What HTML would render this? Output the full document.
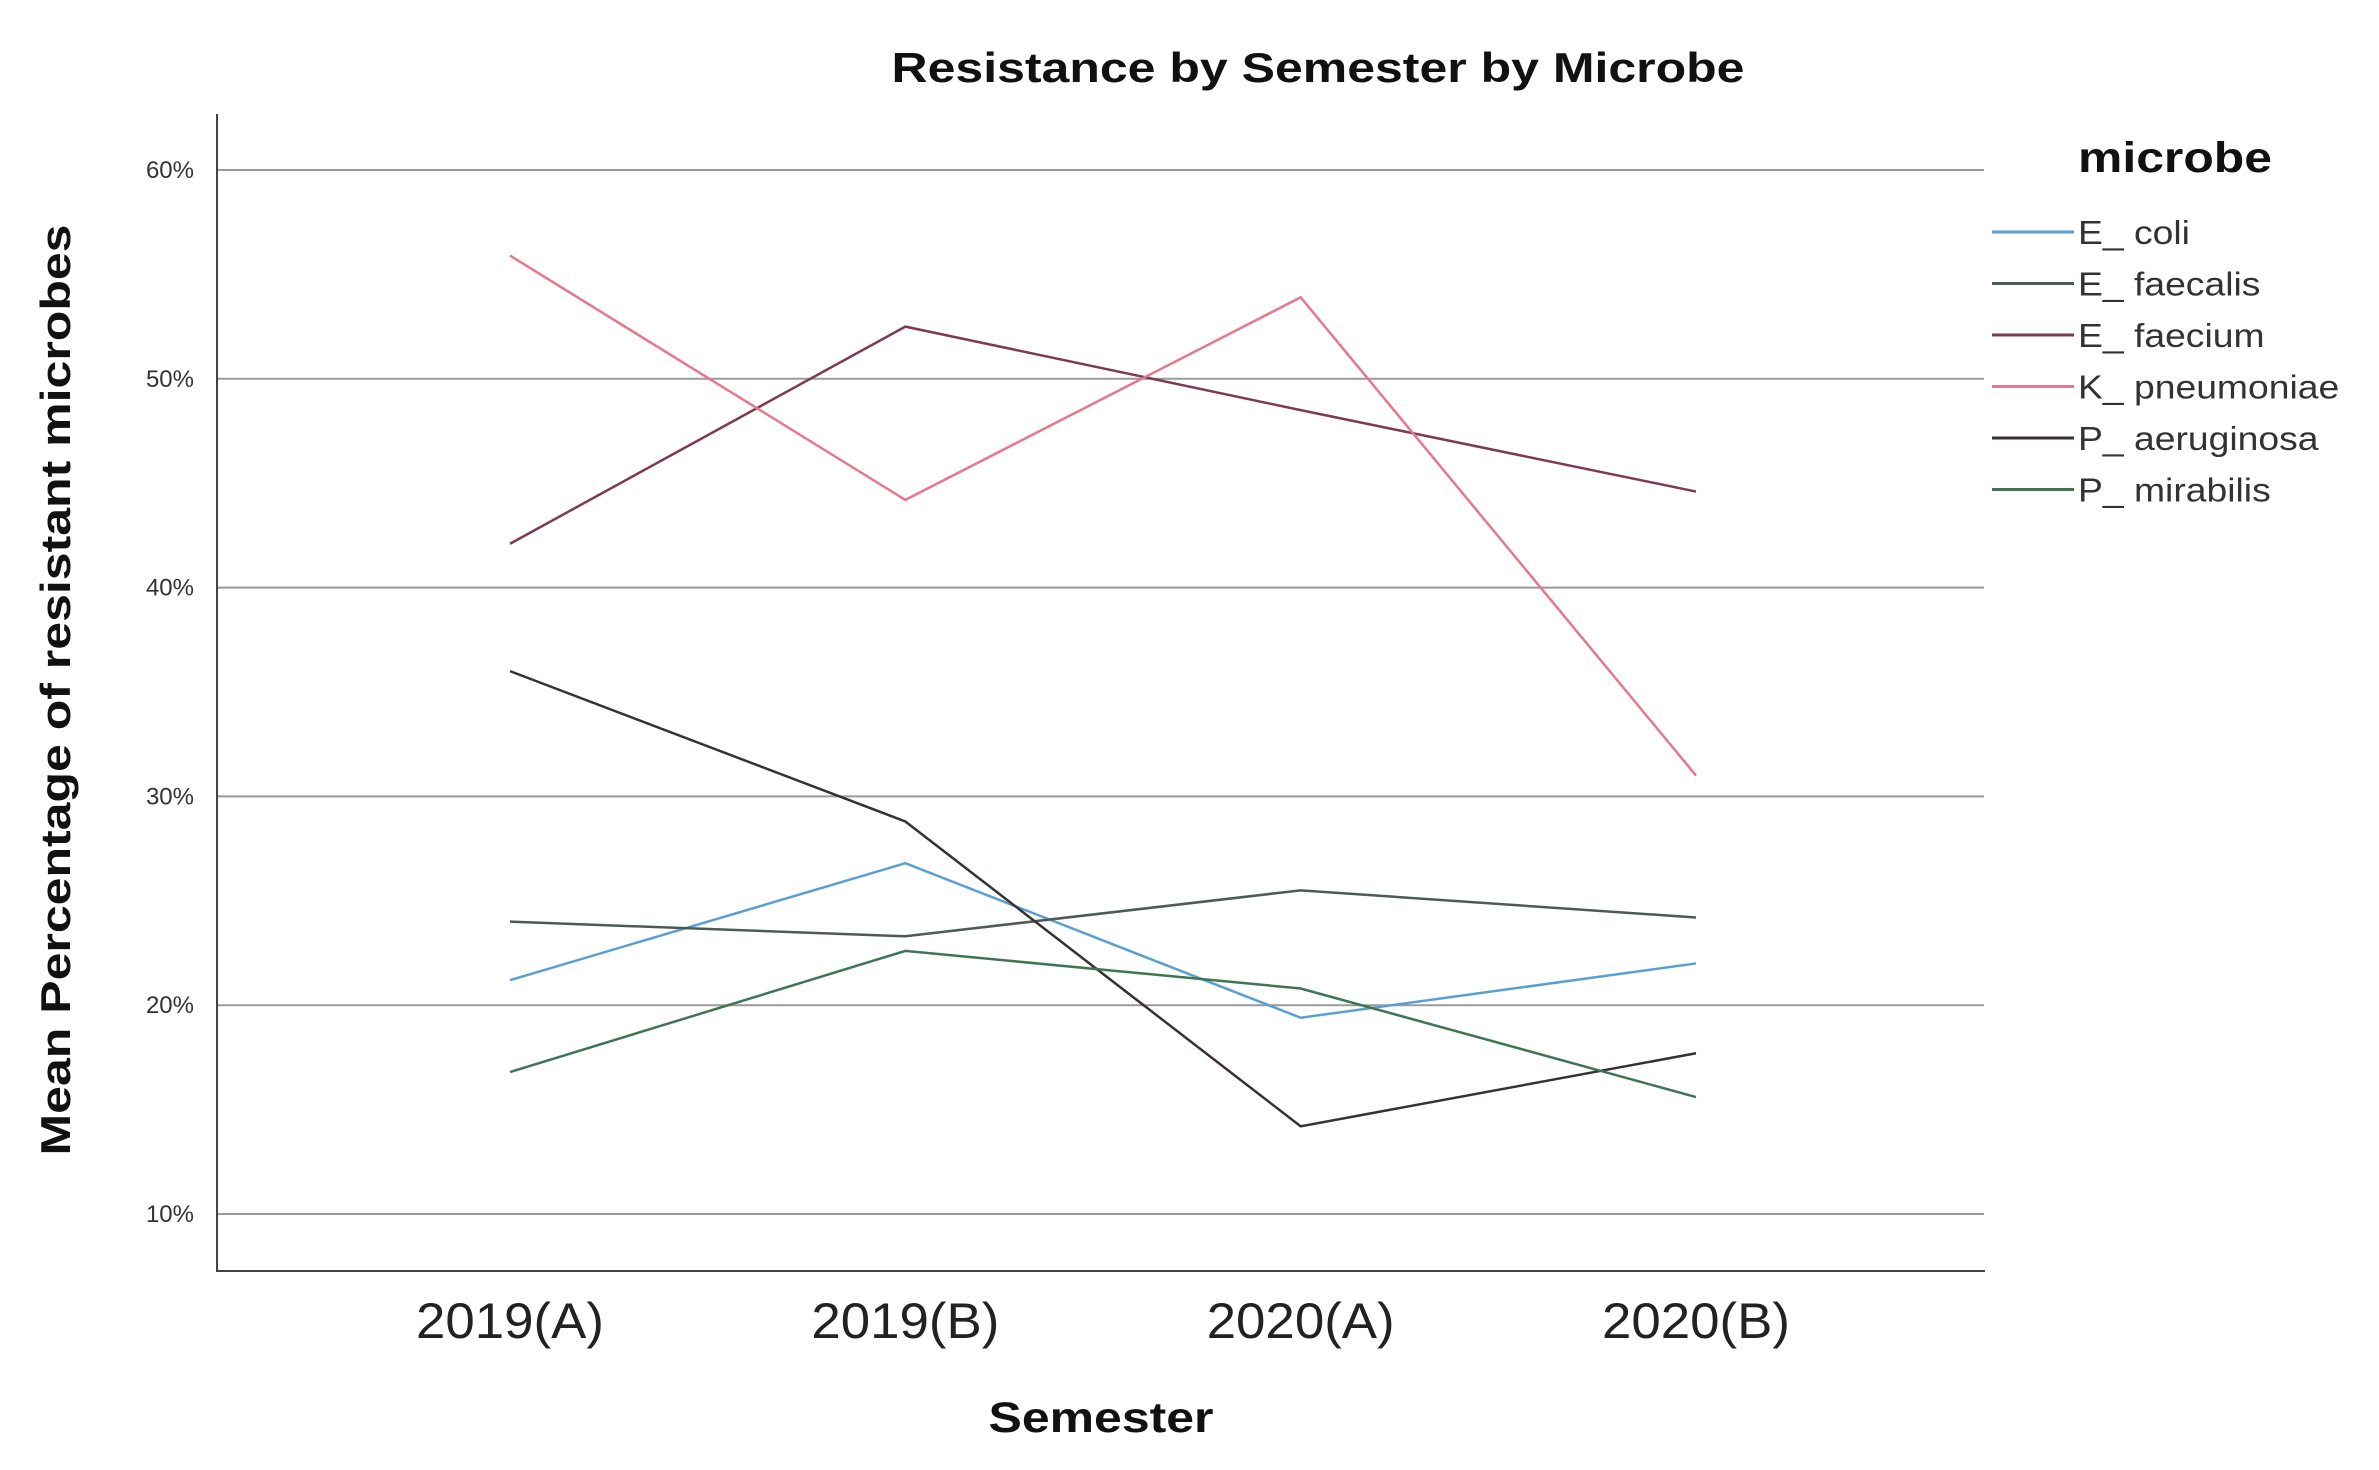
<!DOCTYPE html>
<html><head><meta charset="utf-8"><style>
html,body{margin:0;padding:0;background:#fff;}
svg{display:block;font-family:"Liberation Sans",Arial,sans-serif;}
</style></head><body>
<svg id="chart" width="2379" height="1470" viewBox="0 0 2379 1470">
<text x="1318" y="82" text-anchor="middle" font-size="42" font-weight="bold" fill="#111" textLength="853" lengthAdjust="spacingAndGlyphs">Resistance by Semester by Microbe</text>
<g id="grid"></g>
<g id="yticks"></g>
<g id="xticks"></g>
<line x1="217" y1="114" x2="217" y2="1272" stroke="#444" stroke-width="2"/>
<line x1="216" y1="1271" x2="1985" y2="1271" stroke="#444" stroke-width="2"/>
<g id="series"></g>
<text x="1101" y="1432" text-anchor="middle" font-size="43" font-weight="bold" fill="#111" textLength="225" lengthAdjust="spacingAndGlyphs">Semester</text>
<text transform="translate(70,690) rotate(-90)" text-anchor="middle" font-size="42" font-weight="bold" fill="#111" textLength="931" lengthAdjust="spacingAndGlyphs">Mean Percentage of resistant microbes</text>
<g id="legend">
<text x="2078" y="172" font-size="43" font-weight="bold" fill="#111" textLength="194" lengthAdjust="spacingAndGlyphs">microbe</text>
</g>
</svg>
<script>
const categories = ["2019(A)", "2019(B)", "2020(A)", "2020(B)"];
const seriesNames = ["E_ coli", "E_ faecalis", "E_ faecium", "K_ pneumoniae", "P_ aeruginosa", "P_ mirabilis"];
const eColi = [21.2, 26.8, 19.4, 22.0];
const eFaecalis = [24.0, 23.3, 25.5, 24.2];
const eFaecium = [42.1, 52.5, 48.5, 44.6];
const kPneumoniae = [55.9, 44.2, 53.9, 31.0];
const pAeruginosa = [36.0, 28.8, 14.2, 17.7];
const pMirabilis = [16.8, 22.6, 20.8, 15.6];
const yTicks = [10, 20, 30, 40, 50, 60];
const yTickLabels = ["10%", "20%", "30%", "40%", "50%", "60%"];

const NS = "http://www.w3.org/2000/svg";
const colors = ["#5a9fd4", "#4d5a56", "#7d3b52", "#e5788a", "#3a3030", "#3d7650"];
const seriesData = [eColi, eFaecalis, eFaecium, kPneumoniae, pAeruginosa, pMirabilis];
function xScale(i){ return 510 + i * (1696 - 510) / (categories.length - 1); }
function yScale(v){ return 1214 - (v - 10) * 20.88; }
function mk(tag, attrs){ const e = document.createElementNS(NS, tag); for (const k in attrs) e.setAttribute(k, attrs[k]); return e; }

const grid = document.getElementById("grid");
const yt = document.getElementById("yticks");
yTicks.forEach((v, i) => {
  const l = mk("line", {x1: 217, x2: 1984, y1: yScale(v), y2: yScale(v), stroke: "#9a9a9a", "stroke-width": 2});
  
  
  grid.appendChild(l);
  const t = mk("text", {x: 194, y: yScale(v) + 8, "text-anchor": "end", "font-size": 24, fill: "#333"});
  
  
  t.textContent = yTickLabels[i];
  yt.appendChild(t);
});
const xt = document.getElementById("xticks");
categories.forEach((c, i) => {
  const t = mk("text", {x: xScale(i), y: 1338, "text-anchor": "middle", "font-size": 50, fill: "#222", textLength: 188, lengthAdjust: "spacingAndGlyphs"});
  
  
  t.textContent = c;
  xt.appendChild(t);
});
const sg = document.getElementById("series");
seriesData.forEach((d, s) => {
  const pts = d.map((v, i) => xScale(i) + "," + yScale(v)).join(" ");
  const p = mk("polyline", {points: pts, fill: "none", stroke: colors[s], "stroke-width": 2.5});
  
  
  sg.appendChild(p);
});
const lg = document.getElementById("legend");
seriesNames.forEach((n, s) => {
  const y = 232 + s * 51.5;
  const l = mk("line", {x1: 1992, x2: 2074, y1: y, y2: y, stroke: colors[s], "stroke-width": 3});
  
  
  lg.appendChild(l);
  const t = mk("text", {x: 2078, y: y + 12, "font-size": 33, fill: "#333"});
  
  
  t.textContent = n;
  lg.appendChild(t);
  const w = t.getComputedTextLength();
  t.setAttribute("textLength", w * 1.13);
  t.setAttribute("lengthAdjust", "spacingAndGlyphs");
});
</script>
</body></html>
